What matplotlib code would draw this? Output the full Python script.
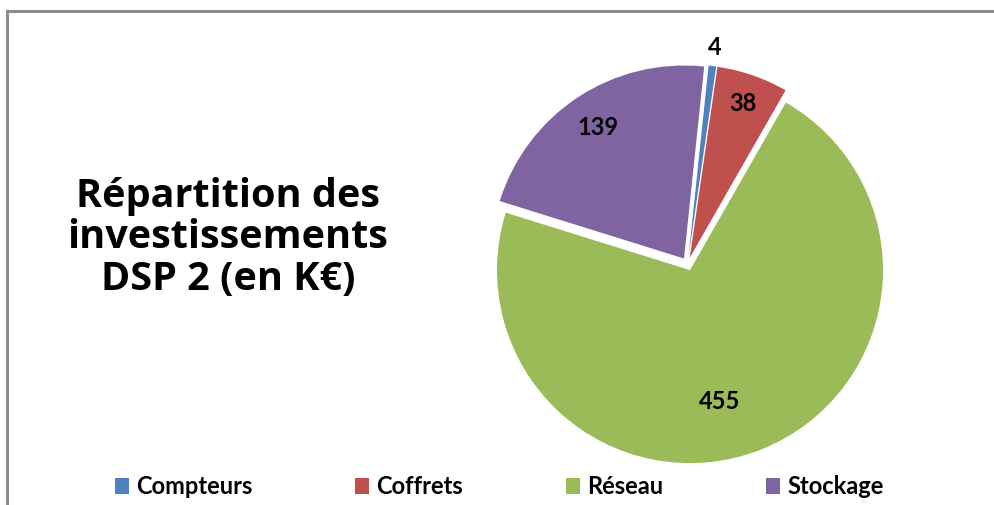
import matplotlib
matplotlib.use("Agg")
import matplotlib.pyplot as plt
from matplotlib.patches import Patch
from matplotlib.lines import Line2D
import numpy as np

categories = ["Compteurs", "Coffrets", "Réseau", "Stockage"]
values = [4, 38, 455, 139]
colors = ["#4F81BD", "#C0504D", "#9BBB59", "#8064A2"]
title_lines = ["Répartition des", "investissements", "DSP 2 (en K€)"]

W, H = 995, 505
fig = plt.figure(figsize=(W / 100, H / 100), dpi=100)
fig.patch.set_facecolor("white")

FONT = "Lato"
TFONT = "Open Sans"

# border (left and top)
fig.add_artist(Line2D([7 / W, 7 / W], [0, 1 - 11 / H], color="#8c8c8c", lw=2.2,
                      transform=fig.transFigure))
fig.add_artist(Line2D([7 / W, 1], [1 - 11 / H, 1 - 11 / H], color="#8c8c8c", lw=2.2,
                      transform=fig.transFigure))

cx, cy, R = 687.6, 264.0, 193.0
L = 1.25
ax = fig.add_axes([(cx - L * R) / W, (H - cy - L * R) / H, 2 * L * R / W, 2 * L * R / H])
wedges, _ = ax.pie(values, colors=colors, startangle=84, counterclock=False,
                   explode=[0.034] * 4, radius=1,
                   wedgeprops=dict(linewidth=0))
ax.set_xlim(-L, L)
ax.set_ylim(-L, L)
ax.axis("off")

label_dist = [1.096, 0.843, 0.696, 0.814]
label_rot = [0.0, 0.0, -8.6, 0.0]
for w, v, d, dr in zip(wedges, values, label_dist, label_rot):
    th = np.deg2rad((w.theta1 + w.theta2) / 2 + dr)
    x0, y0 = w.center
    ax.text(x0 + d * np.cos(th), y0 + d * np.sin(th), str(v), ha="center", va="center",
            fontsize=17, fontweight="bold", family=FONT, color="black")

# title
for line, yb in zip(title_lines, [207, 248, 290]):
    fig.text(228 / W, 1 - yb / H, line, ha="center", va="baseline",
             fontsize=28.5, fontweight="bold", family=TFONT, color="black")

handles = [Patch(facecolor=c, edgecolor="none") for c in colors]
fig.legend(handles, categories, loc="center", bbox_to_anchor=(499 / W, 1 - 487 / H),
           ncol=4, frameon=False, handlelength=0.6, handleheight=0.65,
           handletextpad=0.3, columnspacing=4.35,
           prop=dict(family=FONT, weight="bold", size=17))

fig.savefig("out.png", dpi=100, facecolor="white")
